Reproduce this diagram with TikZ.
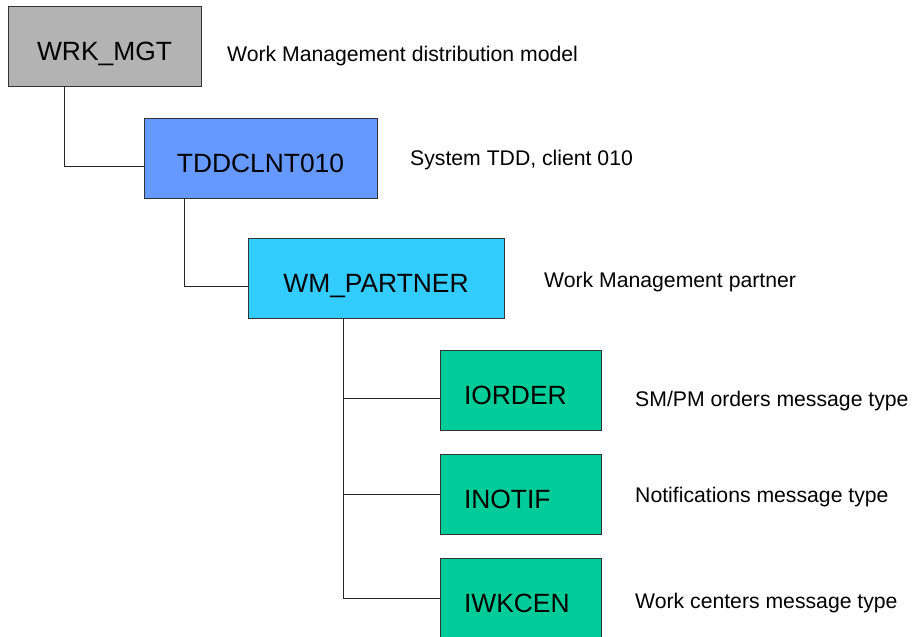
\documentclass[tikz,border=0pt]{standalone}
\usepackage{fontspec}
\setmainfont{Liberation Sans}
\usepackage{tikz}
\usetikzlibrary{calc}

\definecolor{modelgray}{HTML}{B3B3B3}
\definecolor{sysblue}{HTML}{6699FF}
\definecolor{partcyan}{HTML}{33CCFF}
\definecolor{msggreen}{HTML}{00CC99}

\tikzset{
  box/.style={draw=black!80, line width=1pt, minimum height=80pt,
    text height=29pt, text depth=0pt, inner sep=0pt,
    font=\fontsize{26.4}{30}\selectfont},
  msgbox/.style={box, fill=msggreen, minimum width=161pt,
    text width=113pt, inner xsep=24pt, align=left},
  note/.style={anchor=base west, inner sep=0pt,
    font=\fontsize{21.2}{25}\selectfont},
  link/.style={line width=1pt, black!85}
}

\begin{document}
\begin{tikzpicture}[x=1pt,y=-1pt]
            \useasboundingbox (0,0) rectangle (913,637);

            % model, system and partner
            \node[box,fill=modelgray,minimum width=193pt] (wrk) at (104.5,46) {WRK\_MGT};
            \node[box,fill=sysblue,minimum width=233pt] (tdd) at (260.5,158) {TDDCLNT010};
            \node[box,fill=partcyan,minimum width=256pt] (wmp) at (376,278) {WM\_PARTNER};

            % message types
            \node[msgbox] (iord) at (520.5,390) {IORDER};
            \node[msgbox] (inot) at (520.5,494) {INOTIF};
            \node[msgbox] (iwkc) at (520.5,598) {IWKCEN};

            \node[note] (wrk-txt) at (227,61) {Work Management distribution model};
            \node[note] (tdd-txt) at (410,165) {System TDD, client 010};
            \node[note] (wmp-txt) at (544,287) {Work Management partner};
            \node[note] (iord-txt) at (635,406) {SM/PM orders message type};
            \node[note] (inot-txt) at (635,502) {Notifications message type};
            \node[note] (iwkc-txt) at (635,608) {Work centers message type};

            % tree lines
            \draw[link] ([xshift=57pt]wrk.south west) |- ([yshift=-8pt]tdd.west);
            \draw[link] ([xshift=41pt]tdd.south west) |- ([yshift=-8pt]wmp.west);

            \coordinate (trunk) at ([xshift=96pt]wmp.south west);
            \coordinate (iord-in) at ([yshift=-8pt]iord.west);
            \draw[link] (trunk) |- (iwkc.west);
            \draw[link] (iord-in) -- (trunk |- iord-in);
            \draw[link] (inot.west) -- (trunk |- inot.west);
          \end{tikzpicture}
\end{document}
